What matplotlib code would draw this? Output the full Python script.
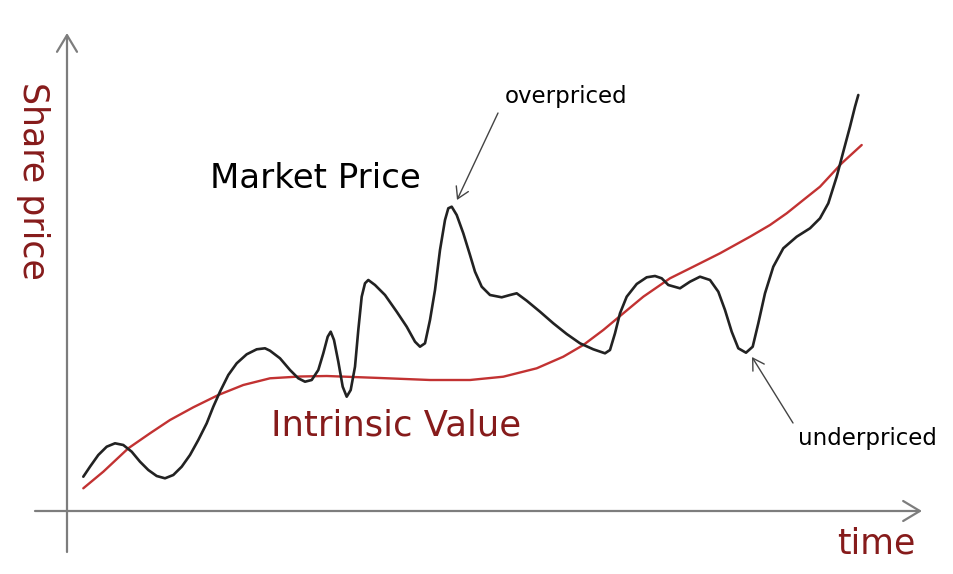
import matplotlib
matplotlib.use("Agg")
import matplotlib.pyplot as plt

# Market price (time, share price in chart units)
market_t = [1.63, 2.30, 3.13, 3.97, 4.80, 5.63, 6.47, 7.30, 8.13, 8.97, 9.80, 10.63, 11.47,
            12.30, 13.13, 13.97, 14.63, 15.30, 16.13, 16.97, 17.97, 18.97, 19.80, 20.30,
            21.30, 22.30, 23.13, 23.80, 24.47, 25.13, 25.63, 26.07, 26.37, 26.70, 27.13,
            27.57, 27.97, 28.37, 28.80, 29.13, 29.47, 29.80, 30.13, 30.80, 31.80, 32.97,
            33.97, 34.80, 35.30, 35.80, 36.30, 36.80, 37.30, 37.80, 38.13, 38.47, 38.97,
            39.63, 40.30, 40.80, 41.47, 42.30, 43.47, 44.30, 44.97, 45.97, 47.30, 48.63,
            49.97, 51.30, 52.63, 53.80, 54.30, 54.80, 55.30, 55.97, 56.97, 57.97, 58.80,
            59.47, 60.13, 61.30, 62.30, 63.30, 64.30, 65.13, 65.80, 66.47, 67.13, 67.90,
            68.57, 69.13, 69.80, 70.63, 71.63, 72.97, 74.30, 75.30, 76.13, 76.97, 77.63,
            78.30, 78.80, 79.13]
market_p = [3.43, 4.43, 5.60, 6.43, 6.77, 6.60, 5.93, 4.93, 4.10, 3.50, 3.27, 3.60, 4.43,
            5.60, 7.10, 8.77, 10.43, 11.93, 13.60, 14.77, 15.67, 16.17, 16.27, 16.03,
            15.27, 14.10, 13.27, 12.93, 13.10, 14.10, 15.77, 17.43, 17.93, 17.10, 14.93,
            12.43, 11.43, 12.10, 14.43, 18.10, 21.43, 22.77, 23.10, 22.60, 21.60, 19.93,
            18.43, 16.93, 16.43, 16.77, 19.10, 22.10, 26.10, 29.10, 30.27, 30.43, 29.60,
            27.77, 25.60, 23.93, 22.43, 21.60, 21.37, 21.60, 21.77, 21.03, 19.93, 18.77,
            17.70, 16.77, 16.17, 15.77, 16.10, 17.77, 19.77, 21.43, 22.70, 23.37, 23.50,
            23.27, 22.60, 22.27, 22.93, 23.43, 23.10, 21.93, 20.10, 17.93, 16.27, 15.83,
            16.43, 18.77, 21.77, 24.43, 26.27, 27.43, 28.27, 29.27, 30.77, 33.43, 35.93,
            38.43, 40.43, 41.60]

# Intrinsic value
value_t = [1.63, 3.63, 6.13, 8.30, 10.30, 12.63, 15.13, 17.63, 20.30, 23.30, 25.97, 31.30,
           36.30, 40.30, 43.63, 46.97, 49.63, 51.63, 53.63, 55.63, 57.63, 60.30, 62.63,
           65.30, 68.30, 70.30, 71.97, 73.63, 75.30, 77.47, 79.47]
value_p = [2.27, 3.93, 6.27, 7.77, 9.10, 10.37, 11.60, 12.60, 13.27, 13.45, 13.50, 13.30,
           13.10, 13.10, 13.43, 14.27, 15.43, 16.60, 18.10, 19.77, 21.43, 23.27, 24.43,
           25.77, 27.43, 28.60, 29.77, 31.10, 32.43, 34.77, 36.60]

# callouts: arrow tip on the curve, arrow tail, label centre
over_tip, over_tail, over_label = (39.0, 31.1), (43.1, 39.8), (49.9, 41.5)
under_tip, under_tail, under_label = (68.5, 15.4), (72.6, 8.8), (80.0, 7.3)

axis_grey = '#7d7d7d'
dark_red = '#861b1b'
line_red = '#c23232'

fig = plt.figure(figsize=(9.54, 5.74), dpi=100)
ax = fig.add_axes([0, 0, 1, 1])
ax.set_xlim(-6.7, 88.7)
ax.set_ylim(-6.3, 51.1)
ax.axis('off')

# axes drawn as open-headed arrows
axis_arrow = dict(arrowstyle='->,head_length=0.6,head_width=0.36', color=axis_grey,
                  lw=1.6, shrinkA=0, shrinkB=0, mutation_scale=20)
ax.annotate('', xy=(0, 47.8), xytext=(0, -4.1), arrowprops=axis_arrow)
ax.annotate('', xy=(85.5, 0), xytext=(-3.2, 0), arrowprops=axis_arrow)

ax.plot(value_t, value_p, color=line_red, lw=1.7, solid_joinstyle='round',
        solid_capstyle='round', zorder=2)
ax.plot(market_t, market_p, color='#222222', lw=1.9, solid_joinstyle='round',
        solid_capstyle='round', zorder=3)

ax.text(-3.4, 33.0, 'Share price', rotation=270, color=dark_red, fontsize=25,
        ha='center', va='center')
ax.text(80.9, -3.2, 'time', color=dark_red, fontsize=25, ha='center', va='center')
ax.text(24.8, 33.2, 'Market Price', color='black', fontsize=24.5, ha='center', va='center')
ax.text(32.9, 8.6, 'Intrinsic Value', color=dark_red, fontsize=25.5, ha='center', va='center')

note_arrow = dict(arrowstyle='->,head_length=0.5,head_width=0.3', color='#444444',
                  lw=1.0, shrinkA=0, shrinkB=0, mutation_scale=16)
ax.text(*over_label, 'overpriced', fontsize=16.5, ha='center', va='center')
ax.annotate('', xy=over_tip, xytext=over_tail, arrowprops=note_arrow)
ax.text(*under_label, 'underpriced', fontsize=16.5, ha='center', va='center')
ax.annotate('', xy=under_tip, xytext=under_tail, arrowprops=note_arrow)

fig.savefig('out.png', dpi=100)
